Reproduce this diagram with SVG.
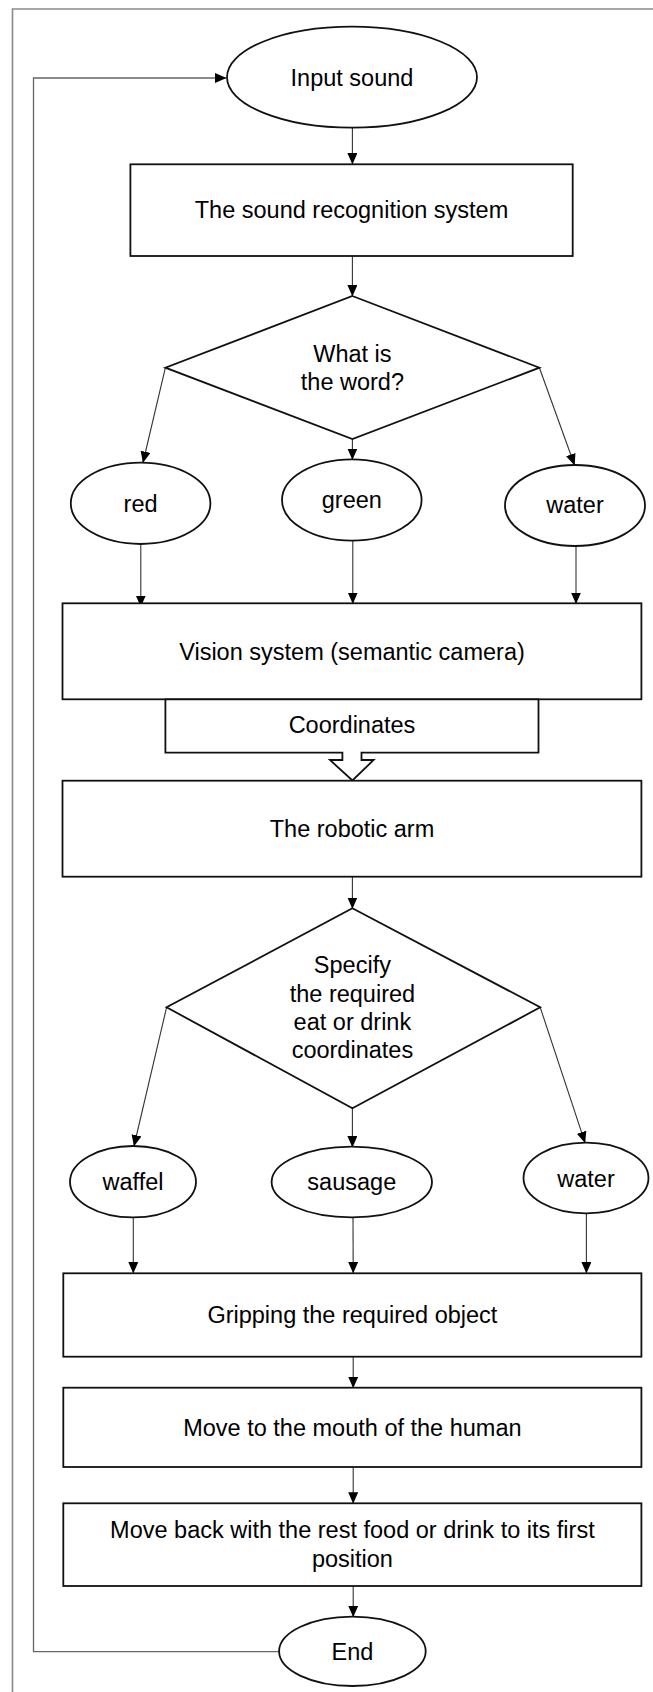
<svg xmlns="http://www.w3.org/2000/svg" width="653" height="1692" viewBox="0 0 653 1692">
  <defs>
    <marker id="arrow" markerWidth="12" markerHeight="12" refX="11" refY="5" orient="auto" markerUnits="userSpaceOnUse">
      <path d="M0,0 L11.5,5 L0,10 Z" fill="#000"/>
    </marker>
    <style>
      .shape { fill: #fff; stroke: #111; stroke-width: 1.8; }
      .conn { fill: none; stroke: #333; stroke-width: 1.1; marker-end: url(#arrow); }
      .frame { fill: none; stroke: #8a8a8a; stroke-width: 1.6; }
      .loop { fill: none; stroke: #666; stroke-width: 1.3; }
      text { font-family: "Liberation Sans", Arial, sans-serif; font-size: 23.5px; fill: #000; text-anchor: middle; }
    </style>
  </defs>

  <rect width="653" height="1692" fill="#fff"/>
  <!-- page frame (top and left edges) -->
  <polyline class="frame" points="12.5,1692 12.5,9 653,9"/>

  <!-- connectors -->
  <g id="connectors">
    <polyline class="loop" points="279,1651.7 33.5,1651.7 33.5,78 226,78" marker-end="url(#arrow)"/>
    <line class="conn" x1="352.4" y1="128" x2="352.4" y2="164"/>
    <line class="conn" x1="352.4" y1="256" x2="352.4" y2="296"/>
    <line class="conn" x1="165.4" y1="367.7" x2="143" y2="462.5"/>
    <line class="conn" x1="352.4" y1="439" x2="352.4" y2="459.5"/>
    <line class="conn" x1="539.4" y1="367.7" x2="574.5" y2="465"/>
    <line class="conn" x1="140.8" y1="544" x2="140.8" y2="606.5"/>
    <line class="conn" x1="352.8" y1="540.7" x2="352.8" y2="603.5"/>
    <line class="conn" x1="576" y1="546" x2="576" y2="603.5"/>
    <line class="conn" x1="352.4" y1="876.7" x2="352.4" y2="908.5"/>
    <line class="conn" x1="166.6" y1="1007.3" x2="134" y2="1146"/>
    <line class="conn" x1="352.4" y1="1108.3" x2="352.4" y2="1147"/>
    <line class="conn" x1="540.2" y1="1007.3" x2="585" y2="1142.7"/>
    <line class="conn" x1="133.3" y1="1217.3" x2="133.3" y2="1273"/>
    <line class="conn" x1="353" y1="1217.3" x2="353.2" y2="1273"/>
    <line class="conn" x1="586.4" y1="1213.3" x2="586.4" y2="1273"/>
    <line class="conn" x1="353.2" y1="1356.7" x2="353.2" y2="1387.7"/>
    <line class="conn" x1="353.2" y1="1467" x2="353.2" y2="1503.3"/>
    <line class="conn" x1="353.2" y1="1586" x2="353.2" y2="1616.7"/>
  </g>

  <g id="input-sound">
    <ellipse class="shape" cx="352" cy="77.2" rx="125" ry="50.5"/>
    <text x="352" y="86">Input sound</text>
  </g>

  <g id="sound-recognition">
    <rect class="shape" x="130.4" y="164.3" width="442.3" height="91.7"/>
    <text x="351.5" y="218">The sound recognition system</text>
  </g>

  <g id="word-decision">
    <polygon class="shape" points="352.4,296 539.4,367.7 352.4,439 165.4,367.7"/>
    <text x="352.4" y="361.7">What is</text>
    <text x="352.4" y="390">the word?</text>
  </g>

  <g id="word-red">
    <ellipse class="shape" cx="140.6" cy="503.3" rx="69.8" ry="40.7"/>
    <text x="140.6" y="511.7">red</text>
  </g>
  <g id="word-green">
    <ellipse class="shape" cx="351.8" cy="500" rx="69.8" ry="40.7"/>
    <text x="351.8" y="508">green</text>
  </g>
  <g id="word-water">
    <ellipse class="shape" cx="575" cy="505.5" rx="70" ry="40.5"/>
    <text x="575" y="513">water</text>
  </g>

  <g id="vision-system">
    <rect class="shape" x="62.5" y="603.3" width="578.9" height="96"/>
    <text x="352" y="660">Vision system (semantic camera)</text>
  </g>

  <g id="coordinates">
    <polygon class="shape" points="165.4,699.3 165.4,752.7 342.4,752.7 342.4,760 330,760 352.4,780.5 373.6,760 361.5,760 361.5,752.7 538.5,752.7 538.5,699.3"/>
    <text x="352" y="733">Coordinates</text>
  </g>

  <g id="robotic-arm">
    <rect class="shape" x="62.5" y="780.7" width="578.9" height="96"/>
    <text x="352" y="836.7">The robotic arm</text>
  </g>

  <g id="coordinates-decision">
    <polygon class="shape" points="352.4,908.3 540.2,1007.3 352.4,1108.3 166.6,1007.3"/>
    <text x="352.4" y="973.3">Specify</text>
    <text x="352.4" y="1001.7">the required</text>
    <text x="352.4" y="1030">eat or drink</text>
    <text x="352.4" y="1058.3">coordinates</text>
  </g>

  <g id="item-waffel">
    <ellipse class="shape" cx="133" cy="1181.7" rx="63" ry="35.7"/>
    <text x="133" y="1190">waffel</text>
  </g>
  <g id="item-sausage">
    <ellipse class="shape" cx="351.8" cy="1182" rx="80.2" ry="35.3"/>
    <text x="351.8" y="1190">sausage</text>
  </g>
  <g id="item-water">
    <ellipse class="shape" cx="586" cy="1178" rx="62.5" ry="35.3"/>
    <text x="586" y="1186.7">water</text>
  </g>

  <g id="gripping">
    <rect class="shape" x="63.3" y="1273.3" width="578.1" height="83.4"/>
    <text x="352.4" y="1323.3">Gripping the required object</text>
  </g>

  <g id="move-to-mouth">
    <rect class="shape" x="63.3" y="1387.7" width="578.1" height="79.3"/>
    <text x="352.4" y="1436">Move to the mouth of the human</text>
  </g>

  <g id="move-back">
    <rect class="shape" x="63.3" y="1503.3" width="578.1" height="82.7"/>
    <text x="352.4" y="1537.7">Move back with the rest food or drink to its first</text>
    <text x="352.4" y="1566.7">position</text>
  </g>

  <g id="end">
    <ellipse class="shape" cx="352.4" cy="1651.3" rx="73.3" ry="34.7"/>
    <text x="352.4" y="1660">End</text>
  </g>
</svg>
